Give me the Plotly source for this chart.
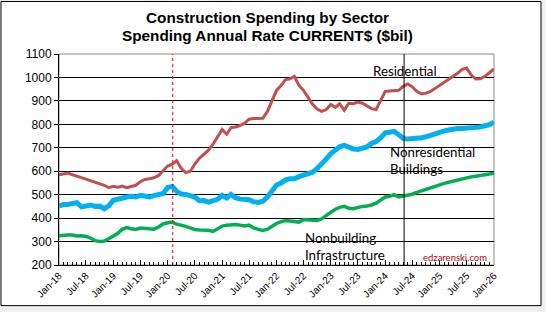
import pandas as pd
import plotly.graph_objects as go

dates = pd.date_range("2018-01-01", periods=97, freq="MS")

residential = [585, 590, 592, 585, 580, 573, 566, 560, 552, 545, 540, 530, 536, 532, 537, 530, 534, 540,
               555, 565, 568, 572, 582, 602, 622, 630, 645, 612, 594, 600, 630, 655, 673, 690, 715, 745,
               778, 758, 786, 789, 795, 805, 822, 825, 825, 826, 855, 900, 945, 965, 990, 994, 1005, 966,
               945, 915, 885, 865, 855, 863, 885, 872, 888, 860, 890, 888, 895, 890, 880, 867, 863, 900,
               940, 942, 942, 945, 962, 972, 960, 940, 930, 933, 940, 953, 965, 980, 994, 1005, 1018, 1035,
               1040, 1010, 993, 994, 1005, 1020, 1036]

nonres_bldg = [451, 458, 458, 461, 466, 448, 452, 456, 450, 451, 440, 452, 476, 482, 487, 490, 493, 490,
               497, 492, 490, 496, 502, 505, 531, 535, 514, 503, 501, 497, 490, 474, 475, 468, 472, 480,
               497, 486, 501, 487, 481, 479, 478, 470, 467, 472, 490, 515, 541, 550, 562, 568, 568, 577,
               584, 586, 596, 612, 630, 652, 675, 690, 704, 710, 702, 695, 693, 696, 704, 718, 726, 742,
               764, 766, 770, 756, 740, 737, 738, 740, 743, 747, 754, 762, 770, 772, 776, 780, 782, 782,
               782, 785, 787, 789, 793, 799, 809]

nonbuilding = [325, 328, 328, 328, 324, 325, 322, 315, 304, 300, 302, 312, 325, 335, 352, 360, 355, 352,
               358, 356, 356, 353, 362, 375, 380, 383, 374, 370, 365, 358, 351, 349, 349, 348, 343, 355,
               366, 370, 373, 373, 370, 366, 370, 358, 352, 347, 353, 365, 377, 385, 390, 388, 384, 383,
               394, 392, 391, 390, 397, 412, 425, 438, 446, 450, 442, 440, 446, 450, 452, 456, 464, 478,
               490, 493, 500, 490, 493, 496, 502, 510, 517, 522, 528, 535, 542, 548, 553, 558, 564, 568,
               572, 576, 579, 581, 585, 588, 592]

title_lines = ["Construction Spending by Sector", "Spending Annual Rate CURRENT$ ($bil)"]

covid_marker = "2020-02-04"
recent_marker = "2024-05-07"

fig = go.Figure()
fig.add_trace(go.Scatter(x=dates, y=residential, mode="lines", name="Residential",
                         line=dict(color="#c0504d", width=3)))
fig.add_trace(go.Scatter(x=dates, y=nonres_bldg, mode="lines", name="Nonresidential Buildings",
                         line=dict(color="#00b0f0", width=5)))
fig.add_trace(go.Scatter(x=dates, y=nonbuilding, mode="lines", name="Nonbuilding Infrastructure",
                         line=dict(color="#00b050", width=3.5)))

W, H = 546, 312
ml, mr, mt, mb = 59, 52, 54, 45
pw, ph = W - ml - mr, H - mt - mb

def px2paper_x(px):
    return (px - ml) / pw

def px2paper_y(py):
    return (H - mb - py) / ph

# outer chart frame
fig.add_shape(type="rect", xref="paper", yref="paper",
              x0=px2paper_x(1), x1=px2paper_x(541), y0=px2paper_y(308), y1=px2paper_y(1),
              line=dict(color="black", width=1), fillcolor="white", layer="below")
# plot border (gray)
fig.add_shape(type="rect", xref="paper", yref="paper", x0=0, x1=1, y0=0, y1=1,
              line=dict(color="#888888", width=1), layer="below")

fig.add_shape(type="line", xref="x", yref="y", x0=covid_marker, x1=covid_marker, y0=200, y1=1100,
              line=dict(color="red", width=1, dash="dot"))
fig.add_shape(type="line", xref="x", yref="y", x0=recent_marker, x1=recent_marker, y0=200, y1=1100,
              line=dict(color="black", width=1))

# title (two lines)
for txt, py in zip(title_lines, [17, 35]):
    fig.add_annotation(xref="paper", yref="paper", x=px2paper_x(267), y=px2paper_y(py),
                       text="<b>" + txt + "</b>", showarrow=False, xanchor="center", yanchor="middle",
                       font=dict(family="Arial, Liberation Sans, sans-serif", size=15.3, color="black"))

font_c = "Lato, Open Sans, sans-serif"
fig.add_annotation(x="2023-09-26", y=1026, text="Residential", showarrow=False, xanchor="left",
                   font=dict(family=font_c, size=13.3, color="black"))
fig.add_annotation(x="2024-01-18", y=647, text="Nonresidential<br>Buildings", showarrow=False,
                   xanchor="left", align="left", font=dict(family=font_c, size=13.3, color="black"))
fig.add_annotation(x="2022-07-01", y=278, text="Nonbuilding<br>Infrastructure", showarrow=False,
                   xanchor="left", align="left", font=dict(family=font_c, size=13.3, color="black"))
fig.add_annotation(x="2025-04-12", y=230, text="edzarenski.com", showarrow=False,
                   font=dict(family=font_c, size=9.5, color="#c00000"))

fig.update_layout(
    width=W, height=H,
    margin=dict(l=ml, r=mr, t=mt, b=mb),
    paper_bgcolor="#f0f0f0",
    plot_bgcolor="white",
    showlegend=False,
    font=dict(family="Arial, Liberation Sans, sans-serif", color="black"),
)

fig.update_xaxes(
    type="date", range=["2018-01-01", "2026-01-01"],
    tick0="2018-01-01", dtick="M6", tickformat="%b-%y", tickangle=-45,
    ticks="inside", ticklen=5, tickcolor="black",
    minor=dict(dtick="M1", ticks="inside", ticklen=3, tickcolor="black", showgrid=False),
    showgrid=False, showline=True, linecolor="black", linewidth=1,
    tickfont=dict(size=10, family="Arial, Liberation Sans, sans-serif"),
    zeroline=False,
)
fig.update_yaxes(
    range=[200, 1100], dtick=100, tick0=200,
    showgrid=True, gridcolor="black", gridwidth=1,
    ticks="outside", ticklen=4, tickcolor="black",
    showline=True, linecolor="black", linewidth=1,
    tickfont=dict(size=12, family="Arial, Liberation Sans, sans-serif"),
    zeroline=False,
)

fig.write_html("out.html")
